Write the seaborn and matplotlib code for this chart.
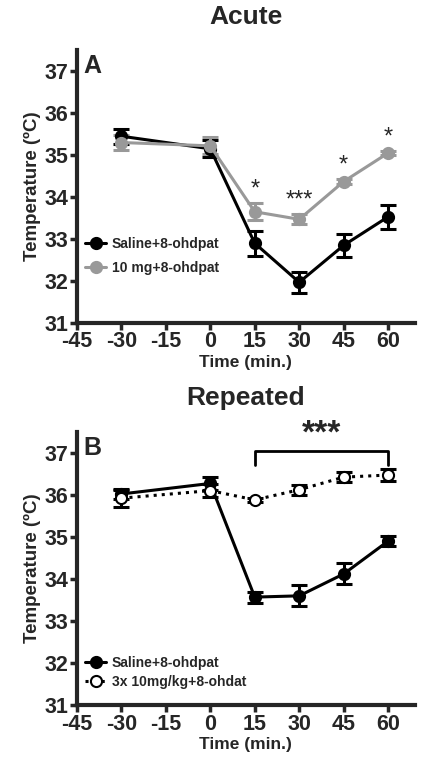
import matplotlib
matplotlib.use("Agg")
import matplotlib.pyplot as plt
import numpy as np
import pandas as pd
import seaborn as sns

sns.set_style("ticks")
plt.rcParams['font.family'] = ['Liberation Sans', 'DejaVu Sans']
plt.rcParams['font.weight'] = 'bold'
plt.rcParams['axes.unicode_minus'] = False

# datos
tiempos = [-30, 0, 15, 30, 45, 60]

agudo_salina = [35.45, 35.15, 32.90, 31.97, 32.85, 33.53]
agudo_salina_err = [0.18, 0.20, 0.30, 0.25, 0.28, 0.28]
agudo_10mg = [35.30, 35.22, 33.65, 33.47, 34.37, 35.05]
agudo_10mg_err = [0.17, 0.20, 0.20, 0.12, 0.05, 0.05]

rep_salina = [36.02, 36.27, 33.57, 33.60, 34.12, 34.90]
rep_salina_err = [0.13, 0.15, 0.13, 0.25, 0.25, 0.12]
rep_3x = [35.92, 36.10, 35.88, 36.12, 36.42, 36.47]
rep_3x_err = [0.20, 0.15, 0.05, 0.12, 0.12, 0.15]

estrellas_agudo = {15: "*", 30: "***", 45: "*", 60: "*"}

xticks = [-45, -30, -15, 0, 15, 30, 45, 60]
yticks = [31, 32, 33, 34, 35, 36, 37]

fig = plt.figure(figsize=(4.25, 7.6), dpi=100)
ax1 = fig.add_axes([0.181, 0.575, 0.795, 0.359])
ax2 = fig.add_axes([0.181, 0.072, 0.795, 0.360])


def armar_eje(ax, letra, titulo):
    ax.set_xlim(-45, 69)
    ax.set_ylim(31, 37.5)
    ax.set_xticks(xticks)
    ax.set_yticks(yticks)
    ax.tick_params(axis='both', labelsize=15.5, width=2.5, length=5, direction='out', pad=1)
    for lab in ax.get_xticklabels() + ax.get_yticklabels():
        lab.set_fontweight('bold')
    for s in ['left', 'bottom']:
        ax.spines[s].set_linewidth(3)
    sns.despine(ax=ax)
    ax.set_xlabel("Time (min.)", fontsize=12.5, fontweight='bold', labelpad=2)
    ax.set_ylabel("Temperature (ºC)", fontsize=13.5, fontweight='bold', labelpad=3)
    ax.text(0.02, 0.985, letra, transform=ax.transAxes, fontsize=18, fontweight='bold', va='top')
    ax.set_title(titulo, fontsize=19, fontweight='bold', pad=19)


def serie(ax, y, err, color, etiqueta, estilo='-', relleno=None, lw=2.2):
    df = pd.DataFrame({"t": tiempos, "temp": y})
    ax.errorbar(tiempos, y, yerr=err, fmt='none', ecolor=color, elinewidth=2.2, capsize=5.5, capthick=2.2, zorder=2)
    sns.lineplot(data=df, x="t", y="temp", ax=ax, color=color, linestyle=estilo, linewidth=lw,
                 marker='o', markersize=8, markerfacecolor=relleno if relleno else color,
                 markeredgecolor=color, markeredgewidth=1.5, label=etiqueta, zorder=3)


# panel A
serie(ax1, agudo_salina, agudo_salina_err, 'black', "Saline+8-ohdpat")
serie(ax1, agudo_10mg, agudo_10mg_err, '#999999', "10 mg+8-ohdpat")
for t, s in estrellas_agudo.items():
    i = tiempos.index(t)
    ax1.text(t, agudo_10mg[i] + agudo_10mg_err[i] + 0.06, s, ha='center', va='bottom',
             fontsize=17, fontweight='normal')
armar_eje(ax1, "A", "Acute")
ax1.legend(loc='lower left', bbox_to_anchor=(0.0, 0.145), frameon=False, fontsize=10,
           handlelength=1.5, handletextpad=0.4, labelspacing=0.75, borderaxespad=0.2)

# panel B
serie(ax2, rep_salina, rep_salina_err, 'black', "Saline+8-ohdpat")
serie(ax2, rep_3x, rep_3x_err, 'black', "3x 10mg/kg+8-ohdat", estilo=':', relleno='white')
ax2.plot([15, 15, 60, 60], [36.72, 37.05, 37.05, 36.72], color='black', linewidth=2, clip_on=False)
ax2.text(37.5, 37.08, "***", ha='center', va='bottom', fontsize=24, fontweight='bold')
armar_eje(ax2, "B", "Repeated")
ax2.legend(loc='lower left', bbox_to_anchor=(0.0, 0.03), frameon=False, fontsize=10,
           handlelength=1.5, handletextpad=0.4, labelspacing=0.35, borderaxespad=0.2)

fig.savefig("out.png", dpi=100)
